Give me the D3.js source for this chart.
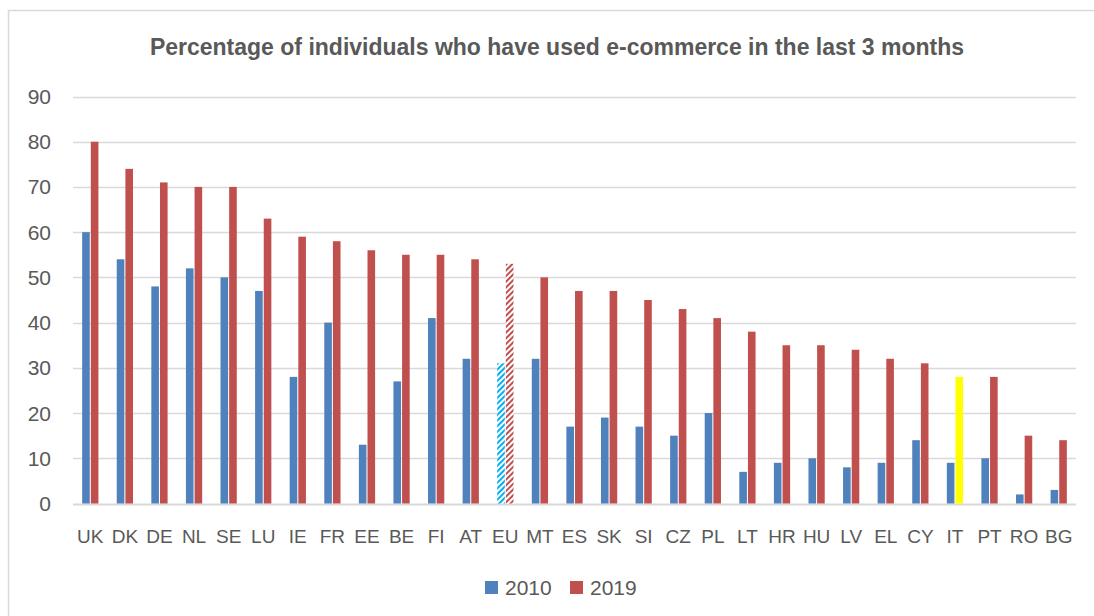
<!DOCTYPE html>
<html lang="en">
<head>
<meta charset="utf-8">
<title>e-commerce</title>
<style>
  body { margin: 0; background: #fff; }
  text { font-family: "Liberation Sans", Arial, sans-serif; fill: #595959; }
</style>
</head>
<body>
<svg width="1094" height="616"></svg>
<script src="https://cdn.jsdelivr.net/npm/d3@7"></script>
<script>
var countries = ["UK","DK","DE","NL","SE","LU","IE","FR","EE","BE","FI","AT","EU","MT","ES","SK","SI","CZ","PL","LT","HR","HU","LV","EL","CY","IT","PT","RO","BG"];
var values2010 = [60,54,48,52,50,47,28,40,13,27,41,32,31,32,17,19,17,15,20,7,9,10,8,9,14,9,10,2,3];
var values2019 = [80,74,71,70,70,63,59,58,56,55,55,54,53,50,47,47,45,43,41,38,35,35,34,32,31,28,28,15,14];
var years = ["2010","2019"];
var yTicks = [0,10,20,30,40,50,60,70,80,90];
var colors = {"2010": "#4F81BD", "2019": "#C0504D"};

var svg = d3.select("svg");
var plotLeft = 73, plotRight = 1076, plotTop = 96.5, plotBottom = 503.5;

// chart frame
svg.append("rect").attr("x", 8.5).attr("y", 10.5).attr("width", 1100).attr("height", 620)
  .attr("fill", "#fff").attr("stroke", "#d9d9d9").attr("stroke-width", 1.5);

var defs = svg.append("defs");
function hatch(id, col) {
  var p = defs.append("pattern").attr("id", id).attr("patternUnits", "userSpaceOnUse")
    .attr("width", 4).attr("height", 4).attr("patternTransform", "rotate(45)");
  p.append("rect").attr("width", 4).attr("height", 4).attr("fill", "#fff");
  p.append("rect").attr("width", 2).attr("height", 4).attr("fill", col);
}
hatch("hb", "#00B0F0");
hatch("hr", "#C0504D");

var y = d3.scaleLinear().domain([0, 90]).range([plotBottom, plotTop]);
var x0 = d3.scaleBand().domain(countries).range([plotLeft, plotRight]).paddingInner(0.53).paddingOuter(0.265);
var x1 = d3.scaleBand().domain(years).range([0, x0.bandwidth()]).paddingInner(0.12);

// grid
svg.append("g").selectAll("line").data(yTicks).join("line")
  .attr("x1", plotLeft).attr("x2", plotRight)
  .attr("y1", function(d) { return Math.round(y(d)) + 0.5; })
  .attr("y2", function(d) { return Math.round(y(d)) + 0.5; })
  .attr("stroke", "#d9d9d9").attr("stroke-width", function(d) { return d === 0 ? 2 : 1.5; });

// y labels
svg.append("g").selectAll("text").data(yTicks).join("text")
  .attr("x", 51).attr("y", function(d) { return y(d) + 7.5; })
  .attr("text-anchor", "end").attr("font-size", 21).text(function(d) { return d; });

// bars
var rows = countries.map(function(c, i) { return {c: c, v: {"2010": values2010[i], "2019": values2019[i]}}; });
var g = svg.append("g");
rows.forEach(function(r) {
  years.forEach(function(yr) {
    var fill = colors[yr];
    if (r.c === "EU") fill = yr === "2010" ? "url(#hb)" : "url(#hr)";
    if (r.c === "IT" && yr === "2019") fill = "#FFFF00";
    g.append("rect")
      .attr("x", x0(r.c) + x1(yr))
      .attr("y", y(r.v[yr]))
      .attr("width", x1.bandwidth())
      .attr("height", plotBottom - y(r.v[yr]))
      .attr("fill", fill);
  });
});

// x labels
svg.append("g").selectAll("text").data(countries).join("text")
  .attr("x", function(d) { return x0(d) + x0.bandwidth() / 2; })
  .attr("y", 543).attr("text-anchor", "middle").attr("font-size", 19)
  .text(function(d) { return d; });

// title
svg.append("text").attr("x", 557).attr("y", 55).attr("text-anchor", "middle")
  .attr("font-size", 23).attr("font-weight", "bold").attr("fill", "#595959")
  .text("Percentage of individuals who have used e-commerce in the last 3 months");

// legend
var legendX = {"2010": 485, "2019": 570};
years.forEach(function(yr) {
  svg.append("rect").attr("x", legendX[yr]).attr("y", 581).attr("width", 13).attr("height", 13).attr("fill", colors[yr]);
  svg.append("text").attr("x", legendX[yr] + 20).attr("y", 595).attr("font-size", 21).text(yr);
});
</script>
</body>
</html>
